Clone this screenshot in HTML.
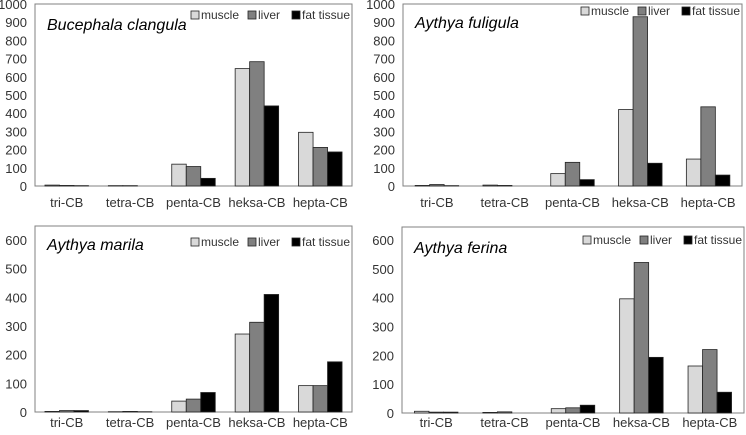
<!DOCTYPE html>
<html><head><meta charset="utf-8"><style>
body{margin:0;background:#fff;}
svg{display:block;font-family:"Liberation Sans",sans-serif;}
</style></head><body>
<svg id="c" width="746" height="435" viewBox="0 0 746 435"></svg>
<script>
const categories=["tri-CB","tetra-CB","penta-CB","heksa-CB","hepta-CB"];
const seriesNames=["muscle","liver","fat tissue"];
const p1Muscle=[5,2,120,645,295];
const p1Liver=[3,2,107,683,212];
const p1Fat=[2,0,42,440,187];
const p2Muscle=[3,5,68,420,148];
const p2Liver=[8,3,130,930,435];
const p2Fat=[2,0,35,125,60];
const p3Muscle=[2,1,38,272,92];
const p3Liver=[5,2,45,313,92];
const p3Fat=[5,1,68,410,175];
const p4Muscle=[6,2,15,396,163];
const p4Liver=[3,4,18,522,220];
const p4Fat=[3,0,27,193,72];
const ticks1000=[0,100,200,300,400,500,600,700,800,900,1000];
const ticks600=[0,100,200,300,400,500,600];
const titles=["Bucephala clangula","Aythya fuligula","Aythya marila","Aythya ferina"];

const svg=document.getElementById('c');
const NS="http://www.w3.org/2000/svg";
const colors=["#d9d9d9","#808080","#000000"];
function mk(tag,attrs,parent){const e=document.createElementNS(NS,tag);for(const k in attrs)e.setAttribute(k,attrs[k]);(parent||svg).appendChild(e);return e;}

function panel(idx,box,ticks,tmax,tmaxY,series,legendY,titleY,xlabOff){
  const g=mk('g',{});
  
  
  const y=v=>box.zero-(v/tmax)*(box.zero-tmaxY);
  mk('rect',{x:box.l,y:box.t,width:box.r-box.l,height:box.zero-box.t,fill:'none',stroke:'#808080','stroke-width':1},g);
  ticks.forEach(t=>{
    const tx=mk('text',{x:box.l-8,y:y(t)+5,'text-anchor':'end','font-size':13,fill:'#333'},g);
    tx.textContent=t;
    
    
  });
  const cw=(box.r-box.l)/categories.length, bw=14.5;
  categories.forEach((c,i)=>{
    const cx=box.l+cw*(i+0.5);
    series.forEach((s,j)=>{
      const v=s[i];
      const r=mk('rect',{x:cx-1.5*bw+j*bw,y:y(v),width:bw,height:Math.max(0,box.zero-y(v)),fill:colors[j],stroke:'#222','stroke-width':0.8},g);
      
      
    });
    const t=mk('text',{x:cx,y:box.zero+xlabOff,'text-anchor':'middle','font-size':13,fill:'#333'},g);
    t.textContent=c;
    
    
  });
  const tt=mk('text',{x:box.l+12,y:titleY,'font-size':16,'font-style':'italic',fill:'#000'},g);
  tt.textContent=titles[idx];
  
  
  const lx=box.r-161;
  const offs=[0,57,101];
  seriesNames.forEach((n,j)=>{
    const r=mk('rect',{x:lx+offs[j],y:legendY-8,width:8,height:8,fill:colors[j],stroke:'#222','stroke-width':0.8},g);
    
    
    const t=mk('text',{x:lx+offs[j]+10,y:legendY,'font-size':12,fill:'#333'},g);
    t.textContent=n;
    
    
  });
}
panel(0,{l:35,r:352,t:4,zero:186},ticks1000,1000,4,[p1Muscle,p1Liver,p1Fat],19,30,21);
panel(1,{l:403,r:742,t:4,zero:186},ticks1000,1000,4,[p2Muscle,p2Liver,p2Fat],15,28,21);
panel(2,{l:35,r:352,t:226,zero:412},ticks600,600,240,[p3Muscle,p3Liver,p3Fat],246,250,15);
panel(3,{l:402,r:744,t:227,zero:413},ticks600,600,240,[p4Muscle,p4Liver,p4Fat],244,253,14);
</script>
</body></html>
